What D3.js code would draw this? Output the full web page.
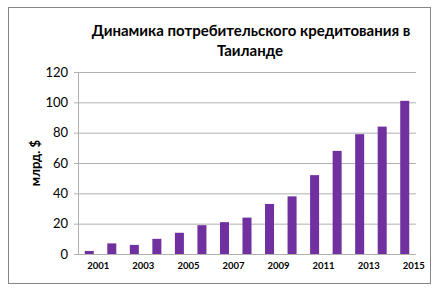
<!doctype html>
<html lang="ru">
<head>
  <meta charset="utf-8">
  <title>Динамика потребительского кредитования в Таиланде</title>
  <script src="https://d3js.org/d3.v7.min.js"></script>
  <style>
    body { margin: 0; background: #fff; }
    svg text { font-family: Lato, "Open Sans", sans-serif; fill: #000; }
  </style>
</head>
<body>
  <div id="chart"></div>
  <script>
    // data
    const years = ["2001", "2002", "2003", "2004", "2005", "2006", "2007", "2008",
                   "2009", "2010", "2011", "2012", "2013", "2014", "2015"];
    const credit = [2, 7, 6, 10, 14, 19, 21, 24, 33, 38, 52, 68, 79, 84, 101];
    const yTicks = [0, 20, 40, 60, 80, 100, 120];
    const xLabels = ["2001", "2003", "2005", "2007", "2009", "2011", "2013", "2015"];

    const width = 440, height = 293;
    const plot = { left: 78, right: 416, top: 72, bottom: 254 };

    const svg = d3.select("#chart").append("svg")
      .attr("width", width)
      .attr("height", height);

    // outer frame
    svg.append("rect")
      .attr("x", 8.5).attr("y", 7.5)
      .attr("width", 422).attr("height", 276)
      .attr("fill", "#fff")
      .attr("stroke", "#868686");

    const x = d3.scaleBand()
      .domain(years)
      .range([plot.left, plot.right])
      .paddingInner(0.6)
      .paddingOuter(0.3);

    const y = d3.scaleLinear()
      .domain([0, 120])
      .range([plot.bottom, plot.top]);

    // gridlines + y labels
    const yAxis = d3.axisLeft(y)
      .tickValues(yTicks)
      .tickSize(-(plot.right - plot.left))
      .tickPadding(10);

    const gy = svg.append("g")
      .attr("transform", `translate(${plot.left},0)`)
      .call(yAxis);
    gy.select(".domain").remove();
    gy.selectAll(".tick line")
      .attr("x1", -4)
      .attr("stroke", "#b0b0b0");
    gy.selectAll(".tick text")
      .style("font-size", "13px");

    // axis lines
    svg.append("line")
      .attr("x1", plot.left + 0.5).attr("x2", plot.left + 0.5)
      .attr("y1", plot.top).attr("y2", plot.bottom)
      .attr("stroke", "#b0b0b0");
    svg.append("line")
      .attr("x1", plot.left).attr("x2", plot.right)
      .attr("y1", plot.bottom + 0.5).attr("y2", plot.bottom + 0.5)
      .attr("stroke", "#b0b0b0");

    // bars
    svg.append("g").selectAll("rect")
      .data(credit)
      .join("rect")
      .attr("x", (d, i) => x(years[i]))
      .attr("y", d => y(d))
      .attr("width", x.bandwidth())
      .attr("height", d => y(0) - y(d))
      .attr("fill", "#7030a0");

    // x labels (Excel puts them a bit right of the bar)
    svg.append("g").selectAll("text")
      .data(xLabels)
      .join("text")
      .attr("x", d => x(d) + x.bandwidth() / 2 + 9)
      .attr("y", 269)
      .attr("text-anchor", "middle")
      .style("font-size", "9.5px")
      .style("font-weight", "bold")
      .text(d => d);

    // y axis title
    svg.append("text")
      .attr("transform", "translate(40,163) rotate(-90)")
      .attr("text-anchor", "middle")
      .style("font-size", "13px")
      .style("font-weight", "bold")
      .text("млрд. $");

    // title
    const title = svg.append("text")
      .attr("text-anchor", "middle")
      .style("font-size", "15px")
      .style("font-weight", "bold");
    title.append("tspan").attr("x", 251).attr("y", 36)
      .text("Динамика потребительского кредитования в");
    title.append("tspan").attr("x", 250).attr("y", 56)
      .text("Таиланде");
  </script>
</body>
</html>
